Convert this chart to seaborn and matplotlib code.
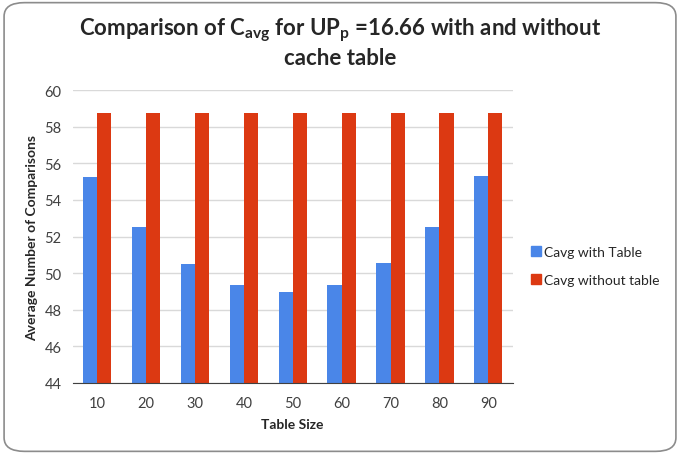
import numpy as np
import pandas as pd
import matplotlib
matplotlib.use("Agg")
import matplotlib.pyplot as plt
import seaborn as sns
from matplotlib.patches import FancyBboxPatch
from matplotlib.lines import Line2D

# data
table_size = [10, 20, 30, 40, 50, 60, 70, 80, 90]
cavg_with_table = [55.25, 52.5, 50.5, 49.35, 48.95, 49.35, 50.55, 52.55, 55.3]
cavg_without_table = [58.73] * 9
series_names = ["Cavg with Table", "Cavg without table"]
colors = ["#4A86E8", "#DC3912"]

df = pd.DataFrame({
    "size": table_size * 2,
    "value": cavg_with_table + cavg_without_table,
    "series": [series_names[0]] * 9 + [series_names[1]] * 9,
})

sns.set_style("white")
plt.rcParams["font.family"] = ["Lato", "DejaVu Sans"]
plt.rcParams["mathtext.fontset"] = "custom"
plt.rcParams["mathtext.rm"] = "Lato:bold"
plt.rcParams["mathtext.it"] = "Lato:bold"
plt.rcParams["mathtext.bf"] = "Lato:bold"

fig = plt.figure(figsize=(6.8, 4.56), dpi=100)
ax = fig.add_axes([0.107, 0.158, 0.647, 0.642])

sns.barplot(data=df, x="size", y="value", hue="series", palette=colors,
            width=0.58, gap=0, saturation=1, linewidth=0, ax=ax, legend=False)

ax.set_ylim(44, 60)
ax.set_yticks(np.arange(44, 61, 2))
ax.set_xlim(-0.5, len(table_size) - 0.5)
ax.grid(axis="y", color="#D9D9D9", linewidth=1)
ax.set_axisbelow(True)
for s in ["left", "right", "top"]:
    ax.spines[s].set_visible(False)
ax.spines["bottom"].set_color("#404040")
ax.tick_params(axis="y", length=0, labelsize=10.5, labelcolor="#404040", pad=8)
ax.tick_params(axis="x", which="major", direction="inout", length=7,
               color="#404040", labelsize=10.5, labelcolor="#404040", pad=6)
ax.set_xticks(np.arange(-0.5, len(table_size), 1), minor=True)
ax.tick_params(axis="x", which="minor", direction="inout", length=8, color="#404040")

ax.set_xlabel("Table Size", fontsize=10, fontweight="bold", labelpad=6)
ax.set_ylabel("Average Number of Comparisons", fontsize=10, fontweight="bold", labelpad=5)

fig.text(0.5, 0.935,
         "Comparison of C$_{avg}$ for UP$_{p}$ =16.66 with and without",
         ha="center", va="center", fontsize=16, fontweight="bold")
fig.text(0.5, 0.872, "cache table", ha="center", va="center",
         fontsize=16, fontweight="bold")

handles = [Line2D([], [], marker="s", linestyle="", markersize=7,
                  markerfacecolor=c, markeredgecolor=c) for c in colors]
fig.legend(handles, series_names, loc="upper left",
           bbox_to_anchor=(0.762, 0.485), frameon=False, fontsize=10,
           handletextpad=0.15, labelspacing=1.1, handlelength=0.8)

border = FancyBboxPatch((0.006, 0.008), 0.988, 0.984, boxstyle="round,pad=0,rounding_size=0.03",
                        transform=fig.transFigure, facecolor="none",
                        edgecolor="#8C8C8C", linewidth=1.2)
fig.patches.append(border)

fig.savefig("out.png", dpi=100)
